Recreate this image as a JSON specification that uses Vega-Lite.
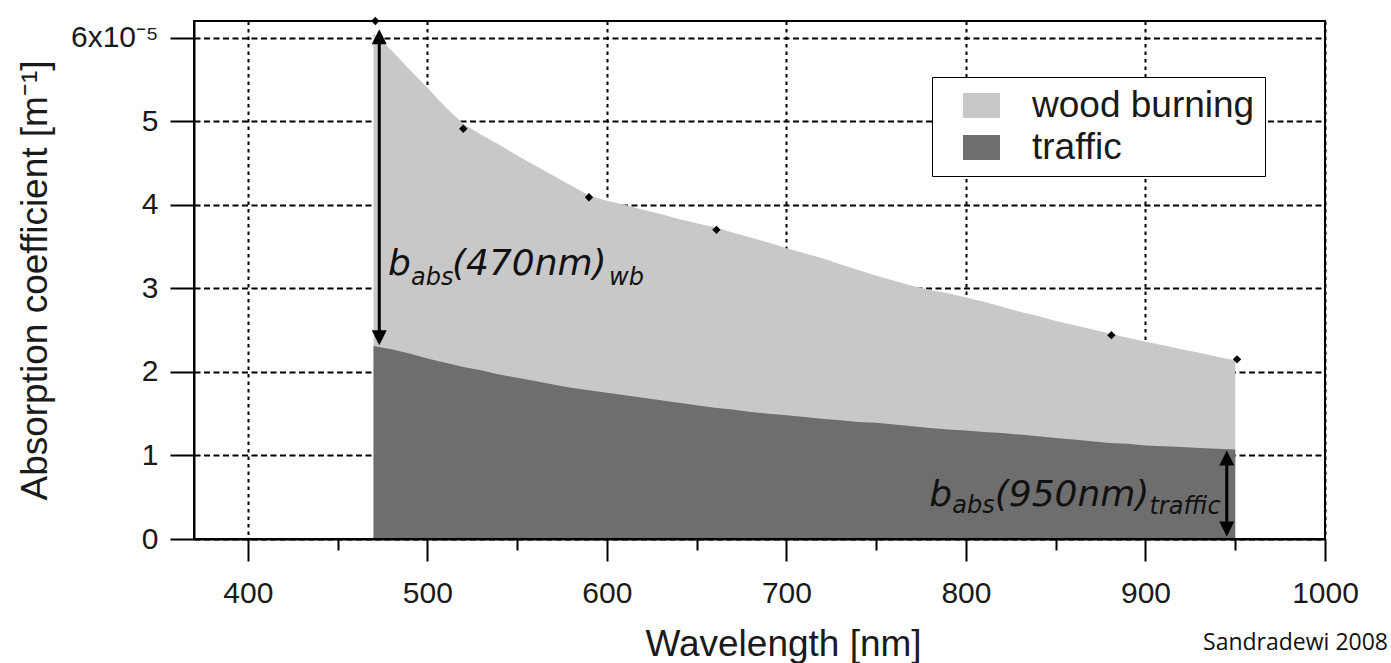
{
  "$schema": "https://vega.github.io/schema/vega-lite/v6.json",
  "width": 1131,
  "height": 518,
  "autosize": "none",
  "padding": {"left": 194, "top": 21, "right": 66, "bottom": 124},
  "background": "white",
  "title": {"text": "Sandradewi 2008", "orient": "bottom", "anchor": "end", "frame": "group", "font": "Open Sans", "fontSize": 23, "fontWeight": "normal", "color": "#111111", "offset": -30, "dx": 63},
  "config": {
    "view": {"stroke": "black", "strokeWidth": 2},
    "axis": {
      "domainColor": "black", "domainWidth": 2, "tickColor": "black", "tickWidth": 2,
      "labelFont": "Liberation Sans", "labelFontSize": 30, "labelColor": "#1a1a1a",
      "titleFont": "Liberation Sans", "titleFontSize": 37, "titleFontWeight": "normal", "titleColor": "#1a1a1a",
      "gridColor": "black", "gridWidth": 2, "gridOpacity": 1, "labelFlush": false, "labelOverlap": false
    }
  },
  "datasets": {
    "curves": [
      {"wl": 470, "total": 6.05, "traffic": 2.31},
      {"wl": 480, "total": 5.85, "traffic": 2.27},
      {"wl": 490, "total": 5.62, "traffic": 2.22},
      {"wl": 500, "total": 5.40, "traffic": 2.16},
      {"wl": 510, "total": 5.17, "traffic": 2.11},
      {"wl": 520, "total": 4.97, "traffic": 2.06},
      {"wl": 530, "total": 4.84, "traffic": 2.02},
      {"wl": 540, "total": 4.72, "traffic": 1.97},
      {"wl": 550, "total": 4.59, "traffic": 1.93},
      {"wl": 560, "total": 4.47, "traffic": 1.89},
      {"wl": 570, "total": 4.35, "traffic": 1.85},
      {"wl": 580, "total": 4.23, "traffic": 1.81},
      {"wl": 590, "total": 4.11, "traffic": 1.78},
      {"wl": 600, "total": 4.05, "traffic": 1.75},
      {"wl": 610, "total": 4.00, "traffic": 1.72},
      {"wl": 620, "total": 3.94, "traffic": 1.69},
      {"wl": 630, "total": 3.89, "traffic": 1.66},
      {"wl": 640, "total": 3.83, "traffic": 1.63},
      {"wl": 650, "total": 3.78, "traffic": 1.60},
      {"wl": 660, "total": 3.73, "traffic": 1.57},
      {"wl": 670, "total": 3.67, "traffic": 1.55},
      {"wl": 680, "total": 3.61, "traffic": 1.52},
      {"wl": 690, "total": 3.55, "traffic": 1.50},
      {"wl": 700, "total": 3.48, "traffic": 1.48},
      {"wl": 710, "total": 3.42, "traffic": 1.46},
      {"wl": 720, "total": 3.36, "traffic": 1.44},
      {"wl": 730, "total": 3.29, "traffic": 1.42},
      {"wl": 740, "total": 3.22, "traffic": 1.40},
      {"wl": 750, "total": 3.15, "traffic": 1.39},
      {"wl": 760, "total": 3.09, "traffic": 1.37},
      {"wl": 770, "total": 3.03, "traffic": 1.35},
      {"wl": 780, "total": 2.98, "traffic": 1.33},
      {"wl": 790, "total": 2.94, "traffic": 1.31},
      {"wl": 800, "total": 2.89, "traffic": 1.30},
      {"wl": 810, "total": 2.84, "traffic": 1.28},
      {"wl": 820, "total": 2.78, "traffic": 1.27},
      {"wl": 830, "total": 2.72, "traffic": 1.25},
      {"wl": 840, "total": 2.67, "traffic": 1.23},
      {"wl": 850, "total": 2.61, "traffic": 1.21},
      {"wl": 860, "total": 2.56, "traffic": 1.19},
      {"wl": 870, "total": 2.51, "traffic": 1.17},
      {"wl": 880, "total": 2.46, "traffic": 1.15},
      {"wl": 890, "total": 2.41, "traffic": 1.14},
      {"wl": 900, "total": 2.36, "traffic": 1.12},
      {"wl": 910, "total": 2.32, "traffic": 1.11},
      {"wl": 920, "total": 2.27, "traffic": 1.10},
      {"wl": 930, "total": 2.23, "traffic": 1.09},
      {"wl": 940, "total": 2.18, "traffic": 1.08},
      {"wl": 950, "total": 2.14, "traffic": 1.07}
    ],
    "dots": [
      {"wl": 471, "v": 6.2},
      {"wl": 520, "v": 4.91},
      {"wl": 590, "v": 4.09},
      {"wl": 661, "v": 3.70},
      {"wl": 881, "v": 2.44},
      {"wl": 951, "v": 2.15}
    ],
    "arrows": [
      {"wl": 473.2, "top": 6.06, "bottom": 2.36},
      {"wl": 945.3, "top": 1.02, "bottom": 0.07}
    ],
    "heads": [
      {"wl": 473.2, "v": 6.01, "dir": "up"},
      {"wl": 473.2, "v": 2.41, "dir": "down"},
      {"wl": 945.3, "v": 0.97, "dir": "up"},
      {"wl": 945.3, "v": 0.12, "dir": "down"}
    ],
    "big": [
      {"t": "b", "wl": 478.1, "v": 3.16},
      {"t": "(470nm)", "wl": 513.7, "v": 3.16},
      {"t": "b", "wl": 779.6, "v": 0.395},
      {"t": "(950nm)", "wl": 816.0, "v": 0.395}
    ],
    "small": [
      {"t": "abs", "wl": 490.9, "v": 3.04},
      {"t": "wb", "wl": 601.2, "v": 3.04},
      {"t": "abs", "wl": 792.4, "v": 0.307},
      {"t": "traffic", "wl": 902.2, "v": 0.30}
    ]
  },
  "layer": [
    {
      "data": {"name": "curves"},
      "mark": {"type": "area", "opacity": 1},
      "encoding": {
        "x": {
          "field": "wl", "type": "quantitative", "title": "Wavelength [nm]",
          "scale": {"domain": [370, 1000], "nice": false, "zero": false},
          "axis": {
            "values": [400, 450, 500, 550, 600, 650, 700, 750, 800, 850, 900, 950, 1000],
            "format": "d",
            "labelExpr": "datum.value % 100 == 0 ? datum.label : ''",
            "tickSize": {"condition": {"test": "datum.value % 100 != 0", "value": 11}, "value": 22},
            "gridOpacity": {"condition": {"test": "datum.value % 100 != 0", "value": 0}, "value": 1},
            "gridDash": [3.5, 4],
            "labelPadding": 17,
            "titleX": 589,
            "titleY": 87
          }
        },
        "y": {
          "field": "total", "type": "quantitative", "title": "Absorption coefficient [m⁻¹]",
          "scale": {"domain": [0, 6.2], "nice": false},
          "axis": {
            "values": [0, 1, 2, 3, 4, 5, 6],
            "format": "d",
            "tickSize": 24,
            "labelPadding": 12,
            "gridDash": [6, 3.5],
            "labelExpr": "datum.value == 6 ? '6x10⁻⁵' : datum.label",
            "titlePadding": 16
          }
        },
        "color": {
          "datum": "wood burning",
          "scale": {"domain": ["wood burning", "traffic"], "range": ["#c8c8c8", "#6e6e6e"]},
          "legend": {
            "title": null, "orient": "none", "legendX": 738, "legendY": 56,
            "strokeColor": "black", "fillColor": "white", "padding": 10,
            "symbolType": "M-1,-0.676H1V0.676H-1Z", "symbolSize": 1369, "symbolStrokeWidth": 0, "symbolOpacity": 1,
            "symbolOffset": 21, "labelOffset": 32, "labelFont": "Liberation Sans", "labelFontSize": 37,
            "labelLimit": 500, "labelColor": "#1a1a1a", "rowPadding": 4
          }
        }
      }
    },
    {
      "data": {"name": "curves"},
      "mark": {"type": "area", "opacity": 1},
      "encoding": {
        "x": {"field": "wl", "type": "quantitative", "title": "Wavelength [nm]"},
        "y": {"field": "traffic", "type": "quantitative", "title": "Absorption coefficient [m⁻¹]"},
        "color": {"datum": "traffic"}
      }
    },
    {
      "data": {"name": "curves"},
      "mark": {"type": "rule", "color": "black", "strokeWidth": 2},
      "encoding": {"y": {"datum": 0}}
    },
    {
      "data": {"name": "arrows"},
      "mark": {"type": "rule", "color": "black", "strokeWidth": 3},
      "encoding": {
        "x": {"field": "wl", "type": "quantitative", "title": "Wavelength [nm]"},
        "y": {"field": "top", "type": "quantitative", "title": "Absorption coefficient [m⁻¹]"},
        "y2": {"field": "bottom"}
      }
    },
    {
      "data": {"name": "heads"},
      "mark": {"type": "point", "filled": true, "color": "black", "size": 225, "opacity": 1, "strokeWidth": 0},
      "encoding": {
        "x": {"field": "wl", "type": "quantitative", "title": "Wavelength [nm]"},
        "y": {"field": "v", "type": "quantitative", "title": "Absorption coefficient [m⁻¹]"},
        "shape": {"field": "dir", "type": "nominal", "scale": {"domain": ["up", "down"], "range": ["M0,-1L1,1L-1,1Z", "M0,1L1,-1L-1,-1Z"]}, "legend": null}
      }
    },
    {
      "data": {"name": "dots"},
      "mark": {"type": "point", "filled": true, "color": "black", "size": 70, "opacity": 1, "shape": "diamond"},
      "encoding": {
        "x": {"field": "wl", "type": "quantitative", "title": "Wavelength [nm]"},
        "y": {"field": "v", "type": "quantitative", "title": "Absorption coefficient [m⁻¹]"}
      }
    },
    {
      "data": {"name": "big"},
      "mark": {"type": "text", "align": "left", "baseline": "alphabetic", "font": "DejaVu Sans", "fontStyle": "italic", "fontSize": 36, "color": "#111111"},
      "encoding": {
        "x": {"field": "wl", "type": "quantitative", "title": "Wavelength [nm]"},
        "y": {"field": "v", "type": "quantitative", "title": "Absorption coefficient [m⁻¹]"},
        "text": {"field": "t"}
      }
    },
    {
      "data": {"name": "small"},
      "mark": {"type": "text", "align": "left", "baseline": "alphabetic", "font": "DejaVu Sans", "fontStyle": "italic", "fontSize": 24, "color": "#111111"},
      "encoding": {
        "x": {"field": "wl", "type": "quantitative", "title": "Wavelength [nm]"},
        "y": {"field": "v", "type": "quantitative", "title": "Absorption coefficient [m⁻¹]"},
        "text": {"field": "t"}
      }
    }
  ]
}
